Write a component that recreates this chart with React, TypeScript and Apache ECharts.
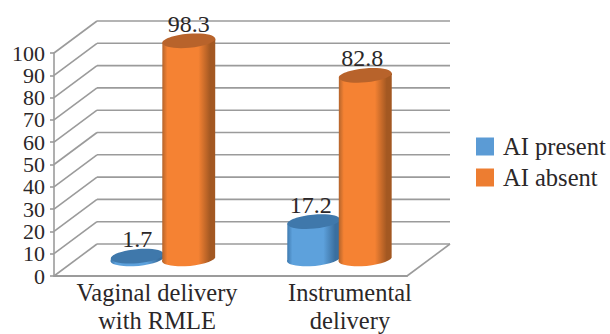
import React, { useEffect, useRef } from "react";
import * as echarts from "echarts";

const categories = ["Vaginal delivery\nwith RMLE", "Instrumental\ndelivery"];
const aiPresent = [1.7, 17.2];
const aiAbsent = [98.3, 82.8];
const yTicks = [0, 10, 20, 30, 40, 50, 60, 70, 80, 90, 100];

const FONT = '"Liberation Serif", serif';
const INK = "#2b2728";
const WALL = "#9b9b9b";

// Pseudo-3D box: depth offset from the front plane to the back wall.
const DEPTH_X = 43;
const DEPTH_Y = -32;
const RX = 26.5;
const RY = 7;
const TILT = (-5 * Math.PI) / 180;

const ellipsePoints = (cx: number, cy: number) => ({
  lx: cx - RX * Math.cos(TILT),
  ly: cy - RX * Math.sin(TILT),
  rx: cx + RX * Math.cos(TILT),
  ry: cy + RX * Math.sin(TILT),
});

function cylinderRenderer(
  shift: number,
  colors: { edgeL: string; mid: string; edgeR: string; top: string }
) {
  const body = new echarts.graphic.LinearGradient(0, 0, 1, 0, [
    { offset: 0, color: colors.edgeL },
    { offset: 0.1, color: colors.mid },
    { offset: 0.68, color: colors.mid },
    { offset: 0.9, color: colors.edgeR },
    { offset: 1, color: colors.edgeR },
  ]);
  return (_params: any, api: any) => {
    const cat = api.value(0);
    const val = api.value(1);
    // Bars stand half-way into the box depth.
    const cx = api.coord([cat, 0])[0] + DEPTH_X / 2 + shift;
    const baseY = api.coord([cat, 0])[1] + DEPTH_Y / 2;
    const topY = api.coord([cat, val])[1] + DEPTH_Y / 2;
    const t = ellipsePoints(cx, topY);
    const b = ellipsePoints(cx, baseY);
    const deg = (TILT * 180) / Math.PI;
    const d =
      `M${t.lx} ${t.ly}A${RX} ${RY} ${deg} 0 1 ${t.rx} ${t.ry}` +
      `L${b.rx} ${b.ry}A${RX} ${RY} ${deg} 0 1 ${b.lx} ${b.ly}Z`;
    return {
      type: "group",
      children: [
        {
          type: "path",
          shape: { pathData: d, layout: "none" },
          style: { fill: body },
        },
        {
          type: "ellipse",
          shape: { cx: 0, cy: 0, rx: RX, ry: RY },
          x: cx,
          y: topY,
          rotation: -TILT,
          style: { fill: colors.top },
        },
        {
          type: "text",
          style: {
            text: String(val),
            // Labels of the second group sit slightly left of their bars.
            x: cx + (cat === 0 ? 0 : -3),
            y: topY - 5,
            align: "center",
            verticalAlign: "bottom",
            fill: INK,
            font: `24px ${FONT}`,
          },
        },
      ],
    };
  };
}

function wallRenderer(params: any, api: any) {
  const v = api.value(1);
  const y = api.coord([0, v])[1];
  const left = params.coordSys.x;
  const right = left + params.coordSys.width;
  const lineStyle = { stroke: WALL, lineWidth: 1.6, fill: "none" };
  const children: any[] = [
    {
      type: "line",
      shape: { x1: left, y1: y, x2: left + DEPTH_X, y2: y + DEPTH_Y },
      style: lineStyle,
    },
    {
      type: "line",
      shape: { x1: left + DEPTH_X, y1: y + DEPTH_Y, x2: right + DEPTH_X, y2: y + DEPTH_Y },
      style: lineStyle,
    },
  ];
  if (v === 0) {
    children.push({
      type: "line",
      shape: { x1: right, y1: y, x2: right + DEPTH_X, y2: y + DEPTH_Y },
      style: lineStyle,
    });
  }
  return { type: "group", children };
}

export default function App() {
  const ref = useRef<HTMLDivElement>(null);

  useEffect(() => {
    const chart = echarts.init(ref.current!, undefined, { renderer: "svg" });
    chart.setOption({
      animation: false,
      backgroundColor: "#ffffff",
      // First grid is the front plane of the box; the second only places the category captions.
      grid: [
        { left: 54, top: 53, width: 353, height: 223 },
        { left: 60.5, top: 53, width: 386, height: 223 },
      ],
      xAxis: [
        {
          type: "category",
          gridIndex: 0,
          data: categories,
          axisLine: { lineStyle: { color: WALL, width: 2 } },
          axisTick: { show: false },
          axisLabel: { show: false },
        },
        {
          type: "category",
          gridIndex: 1,
          data: categories,
          axisLine: { show: false },
          axisTick: { show: false },
          axisLabel: {
            fontFamily: FONT,
            fontSize: 24.5,
            color: INK,
            margin: 8,
            lineHeight: 28,
            interval: 0,
          },
        },
      ],
      yAxis: [
        {
          type: "value",
          gridIndex: 0,
          min: 0,
          max: 100,
          interval: 10,
          splitLine: { show: false },
          axisLine: { show: true, lineStyle: { color: WALL, width: 1.6 } },
          axisTick: { show: true, length: 4, lineStyle: { color: WALL, width: 1.6 } },
          axisLabel: {
            fontFamily: FONT,
            fontSize: 22,
            color: INK,
            margin: 9,
            showMinLabel: true,
            showMaxLabel: true,
          },
        },
        { type: "value", gridIndex: 1, min: 0, max: 100, show: false },
      ],
      legend: {
        orient: "vertical",
        left: 476,
        top: 134,
        padding: 0,
        itemWidth: 18,
        itemHeight: 18,
        itemGap: 6,
        icon: "rect",
        selectedMode: false,
        data: ["AI present", "AI absent"],
        textStyle: {
          fontFamily: FONT,
          fontSize: 24.5,
          lineHeight: 18,
          color: INK,
          padding: [0, 0, 0, 4],
        },
      },
      series: [
        {
          type: "custom",
          name: "walls",
          silent: true,
          z: 1,
          clip: false,
          data: yTicks.map((v) => [0, v]),
          encode: { x: 0, y: 1 },
          renderItem: wallRenderer,
        },
        {
          type: "custom",
          name: "AI present",
          z: 3,
          clip: false,
          itemStyle: { color: "#5B9BD5" },
          data: aiPresent.map((v, i) => [i, v]),
          encode: { x: 0, y: 1 },
          renderItem: cylinderRenderer(-26.5, {
            edgeL: "#3d78ad",
            mid: "#5da1dc",
            edgeR: "#3a6f9f",
            top: "#3f78ab",
          }),
        },
        {
          type: "custom",
          name: "AI absent",
          z: 4,
          clip: false,
          itemStyle: { color: "#ED7D31" },
          data: aiAbsent.map((v, i) => [i, v]),
          encode: { x: 0, y: 1 },
          renderItem: cylinderRenderer(25, {
            edgeL: "#b0622b",
            mid: "#f58233",
            edgeR: "#a35822",
            top: "#b8632b",
          }),
        },
      ],
    });
    return () => chart.dispose();
  }, []);

  return (
    <div
      ref={ref}
      style={{ position: "absolute", left: 0, top: 0, width: 610, height: 334 }}
    />
  );
}
